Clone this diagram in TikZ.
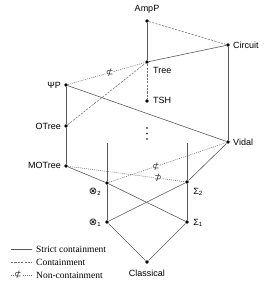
\documentclass[tikz,border=0pt]{standalone}
\usepackage{fontspec}
\setmainfont{Liberation Sans}
\newfontfamily\legfont{Liberation Serif}
\newfontfamily\symfont{DejaVu Sans}
\begin{document}
\begin{tikzpicture}[x=1pt,y=-1pt,
  dot/.style={circle,fill=black,inner sep=0pt,minimum size=3.8pt},
  lab/.style={font=\fontsize{9}{10}\selectfont,inner sep=1pt},
  strict/.style={draw=black!65,line width=0.6pt},
  cont/.style={draw=black!55,line width=0.55pt,dash pattern=on 2.2pt off 1.2pt},
  noncont/.style={draw=black!55,line width=0.55pt,dash pattern=on 1pt off 1pt},
  sym/.style={font=\symfont\fontsize{9}{9}\selectfont,inner sep=0pt,fill=white,text=black!80},
  leg/.style={font=\legfont\fontsize{9.5}{10}\selectfont,anchor=west,inner sep=0pt}]
\useasboundingbox (0,0) rectangle (271,289);
% nodes
\node[dot] (ampp) at (147,21) {};
\node[dot] (circ) at (228,45) {};
\node[dot] (tree) at (147,62) {};
\node[dot] (tsh) at (147,101) {};
\node[dot] (psip) at (66,85) {};
\node[dot] (otree) at (66,126) {};
\node[dot] (vidal) at (228,142) {};
\node[dot] (motree) at (66,166) {};
\node[dot] (ot2) at (107,183) {};
\node[dot] (s2) at (187,182) {};
\node[dot] (ot1) at (107,222) {};
\node[dot] (s1) at (187,222) {};
\node[dot] (cl) at (147,262) {};
\coordinate (ot2top) at (107,143);
\coordinate (s2top) at (187,143);
% dots for ellipsis
\node[circle,fill=black,inner sep=0pt,minimum size=1.8pt] (e1) at (147,128) {};
\node[circle,fill=black,inner sep=0pt,minimum size=1.8pt] (e2) at (147,133.5) {};
\node[circle,fill=black,inner sep=0pt,minimum size=1.8pt] (e3) at (147,139) {};
% labels
\node[lab,anchor=south] (lampp) at (147,15) {AmpP};
\node[lab,anchor=west] (lcirc) at (232,45) {Circuit};
\node[lab,anchor=west] (ltree) at (152,70) {Tree};
\node[lab,anchor=west] (ltsh) at (152,100) {TSH};
\node[lab,anchor=east] (lpsip) at (62,85) {ΨP};
\node[lab,anchor=east] (lotree) at (62,126) {OTree};
\node[lab,anchor=west] (lvidal) at (232,142) {Vidal};
\node[lab,anchor=east] (lmotree) at (62,165) {MOTree};
\node[lab] (lot2) at (95,192) {{\symfont\fontsize{10}{10}\selectfont ⊗}\textsubscript{2}};
\node[lab] (ls2) at (198,192) {Σ\textsubscript{2}};
\node[lab] (lot1) at (95,223) {{\symfont\fontsize{10}{10}\selectfont ⊗}\textsubscript{1}};
\node[lab] (ls1) at (198,223) {Σ\textsubscript{1}};
\node[lab,anchor=north] (lcl) at (147,269) {Classical};
% edges
\draw[strict] (ampp) -- (tree);
\draw[cont] (ampp) -- (circ);
\draw[strict] (tree) -- (circ);
\draw[strict] (circ) -- (vidal);
\draw[cont] (tree) -- (tsh);
\draw[noncont] (psip) -- node[sym,pos=0.54] {⊄} (tree);
\draw[cont] (otree) -- (tree);
\draw[strict] (psip) -- (otree);
\draw[strict] (otree) -- (motree);
\draw[strict] (psip) -- (vidal);
\draw[strict] (motree) -- (ot2);
\draw[noncont] (motree) -- node[sym,pos=0.77] {⊅} (s2);
\draw[noncont] (ot2) -- node[sym,pos=0.4] {⊄} (vidal);
\draw[strict] (s2) -- (vidal);
\draw[strict] (ot2top) -- (ot2) -- (ot1);
\draw[strict] (s2top) -- (s2) -- (s1);
\draw[strict] (ot2) -- (s1);
\draw[strict] (ot1) -- (s2);
\draw[strict] (ot1) -- (cl);
\draw[strict] (s1) -- (cl);
% legend
\coordinate (a1) at (11,249); \coordinate (b1) at (32,249);
\coordinate (a2) at (11,262); \coordinate (b2) at (32,262);
\coordinate (a3) at (11,275); \coordinate (b3) at (32,275);
\draw[strict] (a1) -- (b1);
\draw[cont] (a2) -- (b2);
\draw[noncont] (a3) -- node[sym,pos=0.33] {⊄} (b3);
\node[leg] (t1) at (36,249) {Strict containment};
\node[leg] (t2) at (36,262) {Containment};
\node[leg] (t3) at (36,275) {Non-containment};
\end{tikzpicture}
\end{document}
